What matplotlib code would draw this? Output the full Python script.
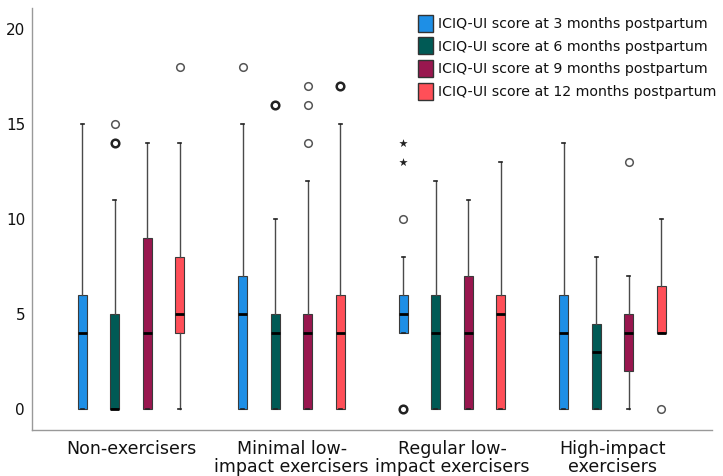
import numpy as np
import matplotlib.pyplot as plt
from matplotlib.patches import Patch

# groups and series
groups = ["Non-exercisers", "Minimal low-\nimpact exercisers",
          "Regular low-\nimpact exercisers", "High-impact\nexercisers"]
series = ["ICIQ-UI score at 3 months postpartum",
          "ICIQ-UI score at 6 months postpartum",
          "ICIQ-UI score at 9 months postpartum",
          "ICIQ-UI score at 12 months postpartum"]
colors = ["#1e8fe6", "#005a55", "#99174f", "#ff4f58"]

# box statistics per series, one value per group
whislo = [[0, 0, 4, 0], [0, 0, 0, 0], [0, 0, 0, 0], [0, 0, 0, 4]]
q1 = [[0, 0, 4, 0], [0, 0, 0, 0], [0, 0, 0, 2], [4, 0, 0, 4]]
med = [[4, 5, 5, 4], [0, 4, 4, 3], [4, 4, 4, 4], [5, 4, 5, 4]]
q3 = [[6, 7, 6, 6], [5, 5, 6, 4.5], [9, 5, 7, 5], [8, 6, 6, 6.5]]
whishi = [[15, 15, 8, 14], [11, 10, 12, 8], [14, 12, 11, 7], [14, 15, 13, 10]]

# outliers: (series, group, value, repeated)
circles = [(1, 0, 15, False), (1, 0, 14, True), (3, 0, 18, False),
           (0, 1, 18, False), (1, 1, 16, True), (2, 1, 14, False),
           (2, 1, 16, False), (2, 1, 17, False), (3, 1, 17, True),
           (0, 2, 10, False), (0, 2, 0, True),
           (2, 3, 13, False), (3, 3, 0, False)]
# extreme values
stars = [(0, 2, 13), (0, 2, 14)]

gap = 0.2025
offsets = [(-1.5 + k) * gap for k in range(4)]
width = 0.056

fig = plt.figure(figsize=(7.23, 4.76), dpi=100)
ax = fig.add_axes([0.0443, 0.0966, 0.9407, 0.8864])

for s in range(4):
    stats = []
    for g in range(4):
        stats.append(dict(whislo=whislo[s][g], q1=q1[s][g], med=med[s][g],
                          q3=q3[s][g], whishi=whishi[s][g], fliers=[]))
    pos = [g + offsets[s] for g in range(4)]
    ax.bxp(stats, positions=pos, widths=width, patch_artist=True,
           showfliers=False, capwidths=0.02,
           boxprops=dict(facecolor=colors[s], edgecolor="#3a3a3a", linewidth=0.8),
           medianprops=dict(color="black", linewidth=2),
           whiskerprops=dict(color="#4a4a4a", linewidth=1),
           capprops=dict(color="#222222", linewidth=1.2))

for s, g, v, rep in circles:
    ax.scatter(g + offsets[s], v, s=30, facecolor="white",
               edgecolor="#222222" if rep else "#555555",
               linewidth=1.8 if rep else 1.1, zorder=3)
for s, g, v in stars:
    ax.scatter(g + offsets[s], v, s=40, marker="*", color="#222222",
               linewidth=0, zorder=3)

ax.set_xlim(-0.617, 3.62)
ax.set_ylim(-1.1, 21.1)
ax.set_yticks([0, 5, 10, 15, 20])
ax.set_xticks(range(4))
ax.set_xticklabels(groups, fontsize=12.5, color="#111111", linespacing=1.0)
ax.tick_params(axis="y", length=0, pad=5, labelsize=11, labelcolor="#111111")
ax.tick_params(axis="x", length=0, pad=7)
for side in ["top", "right"]:
    ax.spines[side].set_visible(False)
for side in ["left", "bottom"]:
    ax.spines[side].set_color("#999999")
    ax.spines[side].set_linewidth(1)

handles = [Patch(facecolor=c, edgecolor="#333333", linewidth=1) for c in colors]
fig.legend(handles, series, loc="upper right", bbox_to_anchor=(1.0, 0.984),
           frameon=False, fontsize=10.2, handlelength=1.1, handleheight=1.45,
           handletextpad=0.3, labelspacing=0.42, borderaxespad=0.1,
           labelcolor="#111111")

fig.savefig("out.png", dpi=100)
